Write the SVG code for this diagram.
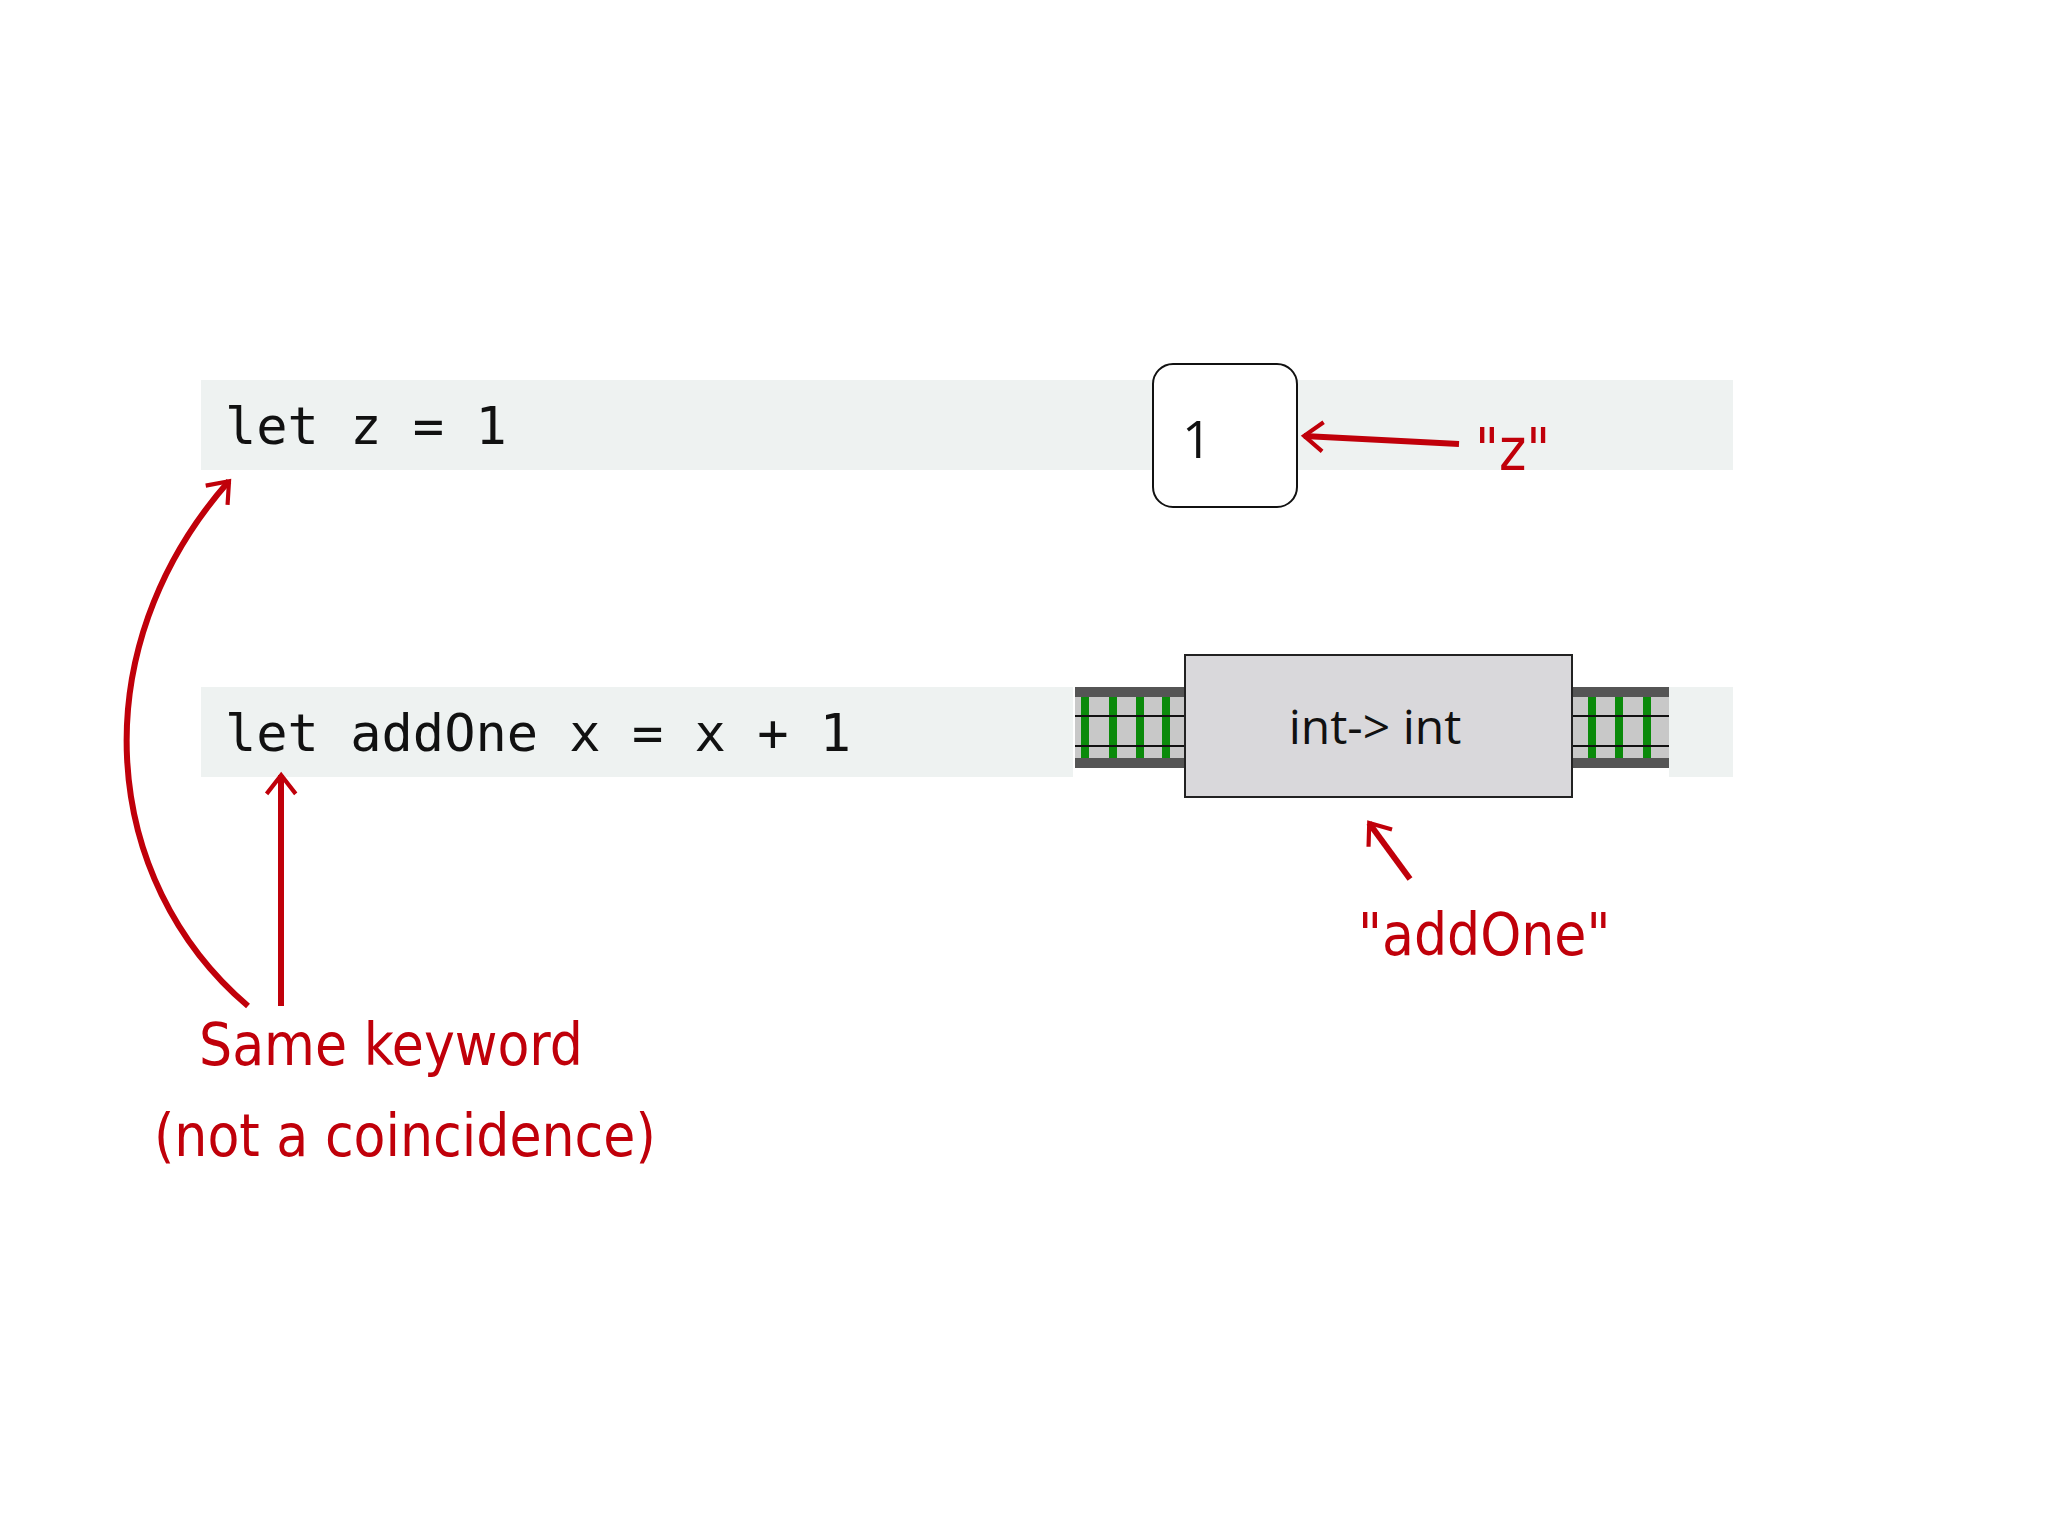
<svg xmlns="http://www.w3.org/2000/svg" width="2048" height="1536" viewBox="0 0 2048 1536">
<style>
.bar{fill:#eef2f1}
.code{font-family:"DejaVu Sans Mono",monospace;font-size:52px;fill:#111}
.hand{font-family:"DejaVu Sans Condensed","DejaVu Sans",sans-serif;fill:#c0000a;font-size:58px}
.red{stroke:#c0000a;stroke-width:6;fill:none;marker-end:url(#ah)}
.g{fill:#0a8a0a}
</style>
<defs>
<marker id="ah" viewBox="0 0 20 20" refX="16" refY="10" markerWidth="8" markerHeight="8" orient="auto" markerUnits="userSpaceOnUse" style="overflow:visible">
<polyline points="-2,-4 16,10 -2,24" fill="none" stroke="#c0000a" stroke-width="4" transform="scale(2.6) translate(-10,-6)"/>
</marker>
</defs>
<rect width="2048" height="1536" fill="#fff"/>
<g id="row1">
<rect class="bar" x="201" y="380" width="1532" height="90"/>
<text class="code" x="225" y="444">let z = 1</text>
</g>
<g id="value1">
<rect x="1153" y="364" width="144" height="143" rx="20" fill="#fff" stroke="#111" stroke-width="2"/>
<text x="1182" y="458" font-family="Open Sans,sans-serif" font-size="52" fill="#111">1</text>
</g>
<g id="row2">
<rect class="bar" x="201" y="687" width="872" height="90"/>
<rect class="bar" x="1669" y="687" width="64" height="90"/>
<text class="code" x="225" y="751">let addOne x = x + 1</text>
</g>
<g id="track-left">
<rect x="1075" y="687" width="110" height="81" fill="#c8c8c8"/>
<rect x="1075" y="687" width="110" height="10" fill="#555"/>
<rect x="1075" y="758" width="110" height="10" fill="#555"/>
<rect class="g" x="1081" y="697" width="8" height="61"/>
<rect class="g" x="1109" y="697" width="8" height="61"/>
<rect class="g" x="1136" y="697" width="8" height="61"/>
<rect class="g" x="1162" y="697" width="8" height="61"/>
<line x1="1075" y1="716" x2="1185" y2="716" stroke="#111" stroke-width="2"/>
<line x1="1075" y1="746" x2="1185" y2="746" stroke="#111" stroke-width="2"/>
</g>
<g id="track-right">
<rect x="1572" y="687" width="97" height="81" fill="#c8c8c8"/>
<rect x="1572" y="687" width="97" height="10" fill="#555"/>
<rect x="1572" y="758" width="97" height="10" fill="#555"/>
<rect class="g" x="1588" y="697" width="8" height="61"/>
<rect class="g" x="1615" y="697" width="8" height="61"/>
<rect class="g" x="1643" y="697" width="8" height="61"/>
<line x1="1572" y1="716" x2="1669" y2="716" stroke="#111" stroke-width="2"/>
<line x1="1572" y1="746" x2="1669" y2="746" stroke="#111" stroke-width="2"/>
</g>
<g id="addOne-box">
<rect x="1185" y="655" width="387" height="142" fill="#d9d8db" stroke="#222" stroke-width="2"/>
<text x="1375" y="744" text-anchor="middle" font-family="Open Sans,sans-serif" font-size="48" fill="#111">int-&gt; int</text>
</g>
<g id="connectors">
<path class="red" d="M1459,444 L1304,436"/>
<path class="red" d="M1410,879 L1369,823"/>
<path class="red" d="M281,1006 L281,775"/>
<path class="red" d="M248,1006 C100,880 80,650 229,481"/>
</g>
<g id="labels">
<text class="hand" x="1475" y="470">"z"</text>
<text class="hand" x="1358" y="955">"addOne"</text>
<text class="hand" x="199" y="1065">Same keyword</text>
<text class="hand" x="154" y="1156">(not a coincidence)</text>
</g>
</svg>
